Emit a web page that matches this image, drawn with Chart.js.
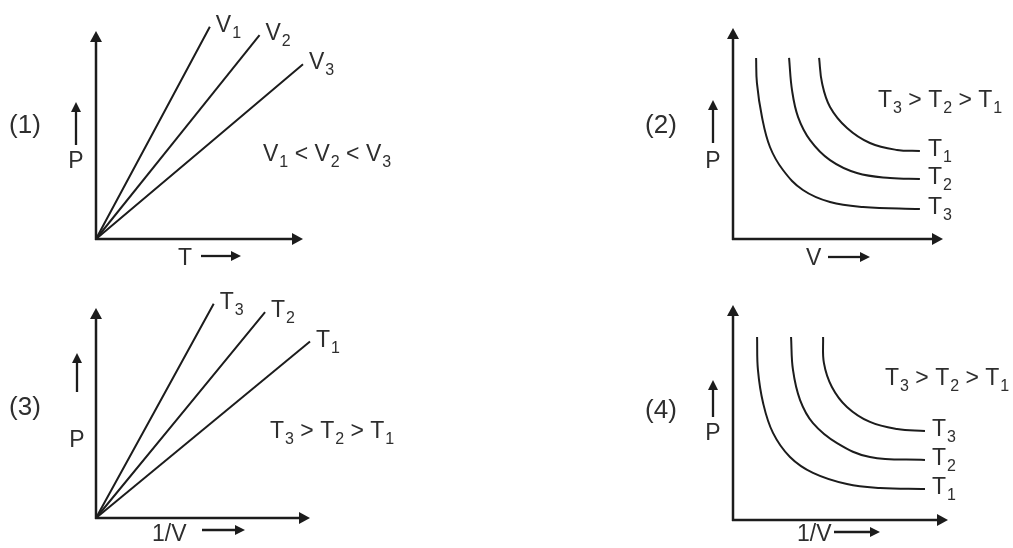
<!DOCTYPE html>
<html>
<head>
<meta charset="utf-8">
<title>Gas law graphs</title>
<script src="https://cdn.jsdelivr.net/npm/chart.js@4.4.1/dist/chart.umd.min.js"></script>
<style>
  html, body { margin: 0; padding: 0; background: #fff; }
  #wrap { position: relative; width: 1013px; height: 548px; overflow: hidden; }
  canvas { position: absolute; }
</style>
</head>
<body>
<div id="wrap">
  <canvas id="c1" width="506" height="274" style="left:0;top:0"></canvas>
  <canvas id="c2" width="507" height="274" style="left:506px;top:0"></canvas>
  <canvas id="c3" width="506" height="274" style="left:0;top:274px"></canvas>
  <canvas id="c4" width="507" height="274" style="left:506px;top:274px"></canvas>
</div>
<script>
'use strict';

// (1) P vs T, one straight line per volume
const p1Names = ['V_1', 'V_2', 'V_3'];
const p1EndT = [5.5, 7.9, 10.0];
const p1EndP = [10.2, 9.8, 8.4];

// (2) P vs V isotherms
const p2Names = ['T_1', 'T_2', 'T_3'];
const p2V = [
  [4.10, 4.24, 4.62, 5.43, 6.52, 7.81, 8.90],
  [2.67, 2.81, 3.10, 3.67, 4.62, 5.90, 7.48, 8.90],
  [1.10, 1.14, 1.38, 1.76, 2.38, 3.33, 4.62, 6.19, 8.90]
];
const p2P = [
  [8.58, 7.39, 6.26, 5.26, 4.55, 4.22, 4.17],
  [8.58, 7.06, 5.78, 4.69, 3.74, 3.13, 2.89, 2.84],
  [8.58, 7.39, 5.78, 4.36, 3.27, 2.32, 1.75, 1.52, 1.42]
];

// (3) P vs 1/V, straight lines
const p3Names = ['T_3', 'T_2', 'T_1'];
const p3EndInvV = [5.5, 7.9, 10.0];
const p3EndP = [10.2, 9.8, 8.4];

// (4) P vs 1/V drawn as curves
const p4Names = ['T_3', 'T_2', 'T_1'];
const p4InvV = [
  [4.19, 4.23, 4.60, 5.30, 6.37, 7.63, 8.93],
  [2.70, 2.79, 3.12, 3.72, 4.84, 6.37, 8.93],
  [1.12, 1.16, 1.40, 1.86, 2.65, 3.72, 5.30, 6.84, 8.93]
];
const p4P = [
  [8.51, 7.30, 6.19, 5.26, 4.56, 4.23, 4.14],
  [8.51, 6.98, 5.58, 4.51, 3.58, 2.93, 2.79],
  [8.51, 6.98, 5.44, 4.05, 2.93, 2.19, 1.67, 1.49, 1.44]
];

const panelTags = ['(1)', '(2)', '(3)', '(4)'];
const xTitles = ['T', 'V', '1/V', '1/V'];
const yTitle = 'P';
const orderNotes = ['V_1 < V_2 < V_3', 'T_3 > T_2 > T_1', 'T_3 > T_2 > T_1', 'T_3 > T_2 > T_1'];

const FONT = '"Liberation Sans", Arial, Helvetica, sans-serif';
const INK = '#1c1c1c';
const TEXT = '#2e2e2e';
const FS = 23;

// text with "_d" meaning subscript digit
function drawRich(ctx, text, x, y, size) {
  let cx = x;
  const sub = Math.round(size * 0.68);
  for (let i = 0; i < text.length; i++) {
    const ch = text[i];
    if (ch === '_') {
      const d = text[++i];
      ctx.font = sub + 'px ' + FONT;
      ctx.fillText(d, cx + 1, y + size * 0.26);
      cx += ctx.measureText(d).width + 1;
    } else {
      ctx.font = size + 'px ' + FONT;
      ctx.fillText(ch, cx, y);
      cx += ctx.measureText(ch).width;
    }
  }
}

function arrow(ctx, x1, y1, x2, y2, width, headLen, headHalf) {
  const ang = Math.atan2(y2 - y1, x2 - x1);
  const bx = x2 - Math.cos(ang) * headLen;
  const by = y2 - Math.sin(ang) * headLen;
  ctx.lineWidth = width;
  ctx.beginPath();
  ctx.moveTo(x1, y1);
  ctx.lineTo(bx, by);
  ctx.stroke();
  ctx.beginPath();
  ctx.moveTo(x2, y2);
  ctx.lineTo(bx + Math.sin(ang) * headHalf, by - Math.cos(ang) * headHalf);
  ctx.lineTo(bx - Math.sin(ang) * headHalf, by + Math.cos(ang) * headHalf);
  ctx.closePath();
  ctx.fill();
}

const decorPlugin = {
  id: 'decor',
  afterDatasetsDraw(chart, args, o) {
    const ctx = chart.ctx;
    const a = chart.chartArea;
    ctx.save();
    ctx.strokeStyle = INK;
    ctx.fillStyle = INK;
    ctx.lineCap = 'butt';
    // main axes
    arrow(ctx, a.left, a.bottom + 1, a.left, a.top, 2.5, 11, 6);
    arrow(ctx, a.left - 1, a.bottom, a.right, a.bottom, 2.5, 11, 6);
    // small P arrow and x-title arrow
    arrow(ctx, o.pArrow[0], o.pArrow[2], o.pArrow[0], o.pArrow[1], 2.3, 10, 5);
    arrow(ctx, o.xArrow[0], o.xArrow[2], o.xArrow[1], o.xArrow[2], 2.3, 10, 5);

    ctx.fillStyle = TEXT;
    ctx.textBaseline = 'alphabetic';
    ctx.textAlign = 'center';
    ctx.font = '26px ' + FONT;
    ctx.fillText(o.tag, o.tagPos[0], o.tagPos[1]);
    ctx.font = FS + 'px ' + FONT;
    ctx.fillText(yTitle, o.pArrow[0], o.pBase);
    ctx.textAlign = 'left';
    drawRich(ctx, o.xTitle, o.xTitlePos[0], o.xTitlePos[1], FS);
    drawRich(ctx, o.note, o.notePos[0], o.notePos[1], FS);

    // series labels at the end of each line
    chart.data.datasets.forEach((ds, i) => {
      const pts = chart.getDatasetMeta(i).data;
      const last = pts[pts.length - 1];
      drawRich(ctx, ds.label, last.x + o.labelOffset[0], last.y + o.labelOffset[1], FS);
    });
    ctx.restore();
  }
};

function makeSeries(names, xs, ys) {
  return names.map((name, i) => ({
    label: name,
    data: xs[i].map((x, j) => ({ x: x, y: ys[i][j] })),
    borderColor: INK,
    borderWidth: 2,
    pointRadius: 0,
    fill: false,
    clip: false,
    tension: 0.4
  }));
}

function lineSeries(names, endX, endY) {
  return makeSeries(names, endX.map(x => [0, x]), endY.map(y => [0, y]));
}

function renderPanel(canvasId, datasets, padding, decor) {
  const ctx = document.getElementById(canvasId).getContext('2d');
  return new Chart(ctx, {
    type: 'line',
    data: { datasets: datasets },
    options: {
      responsive: false,
      animation: false,
      events: [],
      layout: { padding: padding },
      plugins: { legend: { display: false }, tooltip: { enabled: false }, decor: decor },
      scales: {
        x: { type: 'linear', min: 0, max: 10, display: false },
        y: { type: 'linear', min: 0, max: 10, display: false }
      }
    },
    plugins: [decorPlugin]
  });
}

renderPanel('c1', lineSeries(p1Names, p1EndT, p1EndP),
  { left: 96, top: 31, right: 203, bottom: 35 },
  { tag: panelTags[0], tagPos: [25, 133], pArrow: [76, 102, 145], pBase: 168,
    xTitle: xTitles[0], xTitlePos: [178, 265], xArrow: [201, 241, 256],
    note: orderNotes[0], notePos: [263, 161], labelOffset: [6, 5] });

renderPanel('c2', makeSeries(p2Names, p2V, p2P),
  { left: 227, top: 28, right: 70, bottom: 35 },
  { tag: panelTags[1], tagPos: [155, 133], pArrow: [207, 100, 143], pBase: 168,
    xTitle: xTitles[1], xTitlePos: [300, 265], xArrow: [322, 364, 257],
    note: orderNotes[1], notePos: [372, 107], labelOffset: [8, 5] });

renderPanel('c3', lineSeries(p3Names, p3EndInvV, p3EndP),
  { left: 96, top: 34, right: 196, bottom: 30 },
  { tag: panelTags[2], tagPos: [25, 141], pArrow: [77, 79, 118], pBase: 173,
    xTitle: xTitles[2], xTitlePos: [152, 267], xArrow: [202, 245, 256],
    note: orderNotes[2], notePos: [270, 164], labelOffset: [6, 5] });

renderPanel('c4', makeSeries(p4Names, p4InvV, p4P),
  { left: 227, top: 31, right: 65, bottom: 28 },
  { tag: panelTags[3], tagPos: [155, 144], pArrow: [207, 106, 143], pBase: 166,
    xTitle: xTitles[3], xTitlePos: [291, 267], xArrow: [328, 374, 258],
    note: orderNotes[3], notePos: [379, 111], labelOffset: [7, 5] });
</script>
</body>
</html>
